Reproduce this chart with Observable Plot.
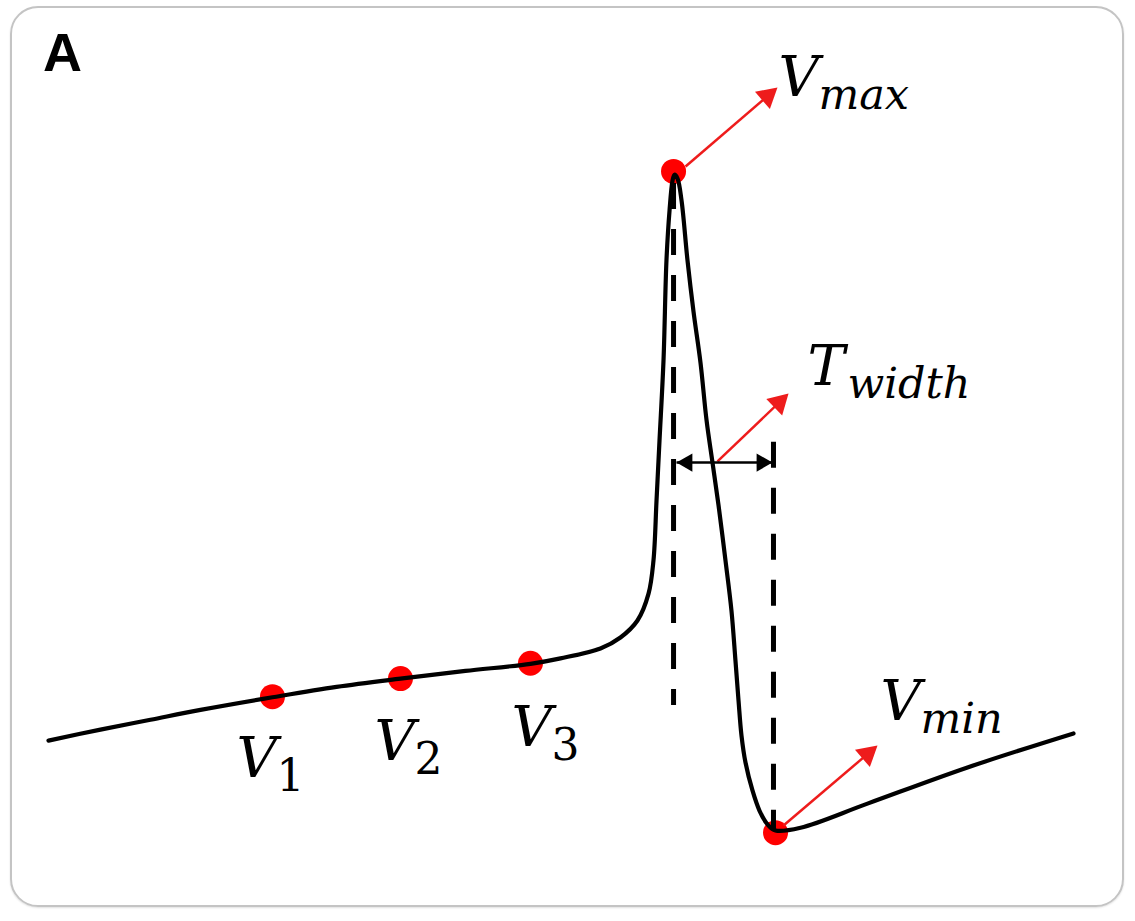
<!DOCTYPE html>
<html>
<head>
<meta charset="utf-8">
<script src="https://cdn.jsdelivr.net/npm/d3@7"></script>
<script src="https://cdn.jsdelivr.net/npm/@observablehq/plot@0.6"></script>
<style>
  html, body { margin: 0; padding: 0; background: #fff; }
  #wrap { position: relative; width: 1135px; height: 921px; overflow: hidden; background: #fff; }
  #frame { position: absolute; left: 10px; top: 6px; width: 1114px; height: 901px; box-sizing: border-box;
           border: 2px solid #c4c4c4; border-radius: 28px; box-shadow: 0 1px 2px rgba(0,0,0,0.12); }
  #panel { position: absolute; left: 43px; top: 25px; font-family: "Liberation Sans", Arial, sans-serif;
           font-weight: bold; font-size: 54px; line-height: 54px; color: #000; }
  #chart { position: absolute; left: 0; top: 0; }
  #chart svg { overflow: visible; }
</style>
</head>
<body>
<div id="wrap">
  <div id="frame"></div>
  <div id="chart"></div>
  <div id="panel">A</div>
</div>
<script>
// ---- Data (time in ms, membrane voltage in mV; schematic) ----
const traceTime = [0, 5.07, 9.95, 14.83, 21.85, 28.10, 34.34, 40.68, 47.02, 49.95, 53.85, 55.80, 57.46, 58.54,
  59.02, 59.32, 59.61, 60.00, 60.29, 60.59, 60.88, 61.07, 61.37, 61.76, 62.34, 62.93, 63.61, 64.20, 64.78,
  65.37, 66.05, 66.63, 67.02, 67.32, 67.61, 68.00, 68.68, 69.37, 70.15, 70.93, 73.37, 79.90, 89.66, 100];
const traceVoltage = [-63.6, -61.6, -59.8, -58.0, -55.7, -53.8, -52.3, -50.9, -49.6, -48.6, -46.8, -44.8, -41.7, -36.8,
  -30.8, -19.8, -8.9, 5.7, 24.0, 33.1, 38.5, 39.6, 38.9, 34.9, 24.0, 14.6, 5.3, -5.2, -12.9,
  -20.7, -30.8, -39.9, -49.0, -56.3, -62.7, -67.6, -72.7, -76.4, -78.9, -80.0, -79.5, -75.1, -68.5, -62.3];

const markerNames = ["V1", "V2", "V3", "Vmax", "Vmin"];
const markerTime = [21.85, 34.34, 47.02, 60.98, 70.93];
const markerVoltage = [-55.6, -52.3, -49.5, 40.2, -80.4];

const guideTime = [60.98, 70.73];
const guideTop = [38.0, -9.2];
const guideBottom = [-57.2, -80.0];

const widthStart = 61.27, widthEnd = 70.63, widthLevel = -12.9;

const arrowFromTime = [62.15, 65.27, 71.71];
const arrowFromVoltage = [41.1, -12.7, -79.1];
const arrowToTime = [71.12, 72.20, 80.88];
const arrowToVoltage = [55.5, -0.3, -64.5];

const labelMain = ["V", "V", "V", "V", "T", "V"];
const labelSub = ["1", "2", "3", "max", "width", "min"];
const labelTime = [18.33, 31.80, 45.16, 71.21, 74.04, 81.16];
const labelVoltage = [-70.3, -67.2, -64.5, 54.0, 1.2, -59.9];

// ---- Layout ----
const W = 1135, H = 921, ML = 48, MR = 62, MT = 172, MB = 91;
const xDomain = [0, 100], yDomain = [-80, 40];
const sx = Plot.scale({x: {domain: xDomain, range: [ML, W - MR]}});
const sy = Plot.scale({y: {domain: yDomain, range: [H - MB, MT]}});

const RED = "#ee1c1c";
const RED_HEAD = 8.5, BLACK_HEAD = 6.8;
// arrowhead triangles (d3 symbolTriangle, centroid placed so tip lands on target)
function head(t0, v0, t1, v1, r) {
  const x0 = sx.apply(t0), y0 = sy.apply(v0), x1 = sx.apply(t1), y1 = sy.apply(v1);
  const L = Math.hypot(x1 - x0, y1 - y0), ux = (x1 - x0) / L, uy = (y1 - y0) / L;
  const back = 2 * r * Math.sqrt(Math.PI / (3 * Math.sqrt(3)));
  const cx = x1 - ux * back, cy = y1 - uy * back;
  return {t: sx.invert(cx), v: sy.invert(cy), rot: Math.atan2(ux, -uy) * 180 / Math.PI};
}
const redHeads = arrowToTime.map((t, i) => head(arrowFromTime[i], arrowFromVoltage[i], t, arrowToVoltage[i], RED_HEAD));
const blackHeads = [
  head(widthEnd, widthLevel, widthStart, widthLevel, BLACK_HEAD),
  head(widthStart, widthLevel, widthEnd, widthLevel, BLACK_HEAD)
];

const traceIdx = d3.range(traceTime.length);
const markerIdx = d3.range(markerNames.length);
const arrowIdx = d3.range(arrowToTime.length);
const labelIdx = d3.range(labelMain.length);
const digitIdx = labelIdx.filter(i => /^\d+$/.test(labelSub[i]));
const letterIdx = labelIdx.filter(i => !/^\d+$/.test(labelSub[i]));

const chart = Plot.plot({
  width: W, height: H,
  marginLeft: ML, marginRight: MR, marginTop: MT, marginBottom: MB,
  x: {domain: xDomain, axis: null},
  y: {domain: yDomain, axis: null},
  style: {background: "transparent", overflow: "visible"},
  marks: [
    // red points (drawn under the trace)
    Plot.dot(markerIdx, {x: i => markerTime[i], y: i => markerVoltage[i], r: 12.5, fill: "#ff0000", stroke: "none"}),
    // red arrows
    Plot.link(arrowIdx, {x1: i => arrowFromTime[i], y1: i => arrowFromVoltage[i],
      x2: i => redHeads[i].t, y2: i => redHeads[i].v, stroke: RED, strokeWidth: 2.5}),
    Plot.dot(redHeads, {x: "t", y: "v", r: RED_HEAD, rotate: "rot", symbol: "triangle", fill: RED, stroke: "none"}),
    // dashed guides
    Plot.ruleX(d3.range(guideTime.length), {x: i => guideTime[i], y1: i => guideTop[i], y2: i => guideBottom[i],
      stroke: "black", strokeWidth: 5, strokeDasharray: "26,20"}),
    // the trace
    Plot.line(traceIdx, {x: i => traceTime[i], y: i => traceVoltage[i], curve: "catmull-rom",
      stroke: "black", strokeWidth: 4.2}),
    // width double arrow
    Plot.link([0], {x1: () => widthStart, x2: () => widthEnd, y1: () => widthLevel, y2: () => widthLevel,
      stroke: "black", strokeWidth: 2.5}),
    Plot.dot(blackHeads, {x: "t", y: "v", r: BLACK_HEAD, rotate: "rot", symbol: "triangle", fill: "black", stroke: "none"}),
    // labels
    Plot.text(labelIdx, {x: i => labelTime[i], y: i => labelVoltage[i], text: i => labelMain[i],
      textAnchor: "start", lineAnchor: "bottom", fontFamily: "DejaVu Serif", fontStyle: "italic", fontSize: 56, fill: "black"}),
    Plot.text(letterIdx, {x: i => labelTime[i], y: i => labelVoltage[i], text: i => labelSub[i],
      textAnchor: "start", lineAnchor: "bottom", dx: 40, dy: 13, fontFamily: "DejaVu Serif", fontStyle: "italic", fontSize: 43, fill: "black"}),
    Plot.text(digitIdx, {x: i => labelTime[i], y: i => labelVoltage[i], text: i => labelSub[i],
      textAnchor: "start", lineAnchor: "bottom", dx: 40, dy: 14, fontFamily: "DejaVu Serif", fontSize: 44, fill: "black"})
  ]
});
document.getElementById("chart").appendChild(chart);
</script>
</body>
</html>
